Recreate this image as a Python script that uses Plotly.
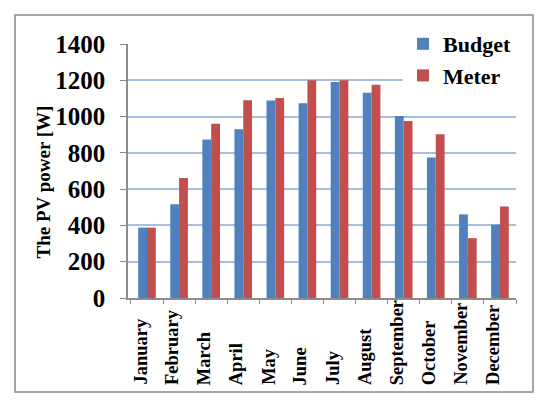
import plotly.graph_objects as go

months = ["January", "February", "March", "April", "May", "June", "July",
          "August", "September", "October", "November", "December"]
budget = [388, 517, 874, 930, 1088, 1073, 1191, 1131, 1003, 774, 461, 404]
meter = [388, 662, 961, 1090, 1102, 1200, 1200, 1175, 975, 903, 330, 504]
y_ticks = [0, 200, 400, 600, 800, 1000, 1200, 1400]

SERIF = "Liberation Serif"
OFF = 8  # page body margin
W, H = 550 - OFF, 404 - OFF
# plot area in screen pixels
PL, PR, PT, PB = 128, 516, 44, 298
ML, MR, MT, MB = PL - OFF, W + OFF - PR, PT - OFF, H + OFF - PB
PW, PH = PR - PL, PB - PT

def px_x(px):
    return (px - PL) / PW

def px_y(py):
    return (PB - py) / PH

fig = go.Figure()
fig.add_trace(go.Bar(name="Budget", x=months, y=budget, marker_color="#4F81BD",
                     marker_line_width=0))
fig.add_trace(go.Bar(name="Meter", x=months, y=meter, marker_color="#C0504D",
                     marker_line_width=0))

annotations = []
for m in months:
    annotations.append(dict(
        x=m, xref="x", y=px_y(387), yref="paper", text=m, showarrow=False,
        textangle=-90, xanchor="center", yanchor="bottom", xshift=-7,
        font=dict(family=SERIF, size=18.5, color="black", weight="bold")))
annotations.append(dict(
    x=px_x(43), xref="paper", y=px_y(261), yref="paper", text="The PV power [W]",
    showarrow=False, textangle=-90, xanchor="center", yanchor="bottom",
    font=dict(family=SERIF, size=19, color="black", weight="bold")))

fig.update_layout(
    width=W, height=H,
    margin=dict(l=ML, r=MR, t=MT, b=MB, pad=0),
    paper_bgcolor="white", plot_bgcolor="white",
    barmode="group", bargap=0.45, bargroupgap=0,
    showlegend=True,
    legend=dict(x=px_x(403), y=px_y(23), xanchor="left", yanchor="top",
                bgcolor="white", borderwidth=0,
                font=dict(family=SERIF, size=22, color="black", weight="bold"),
                tracegroupgap=0, entrywidth=110),
    xaxis=dict(type="category", showticklabels=False, showgrid=False,
               showline=True, linecolor="#8c8c8c", linewidth=1.5,
               ticks="outside", tickson="boundaries", ticklen=4,
               tickcolor="#8c8c8c"),
    yaxis=dict(range=[0, 1400], tickvals=y_ticks, showgrid=True,
               gridcolor="#A7BDE3", gridwidth=1.5, zeroline=False,
               showline=True, linecolor="#8c8c8c", linewidth=1.5,
               ticks="outside", ticklen=6, tickcolor="#8c8c8c",
               ticklabelstandoff=10,
               tickfont=dict(family=SERIF, size=25, color="black", weight="bold")),
    annotations=annotations,
    shapes=[dict(type="rect", xref="paper", yref="paper",
                 x0=px_x(15), x1=px_x(533), y0=px_y(392), y1=px_y(15),
                 line=dict(color="#8a8a8a", width=1.5), layer="below")],
)

fig.write_html("out.html")
